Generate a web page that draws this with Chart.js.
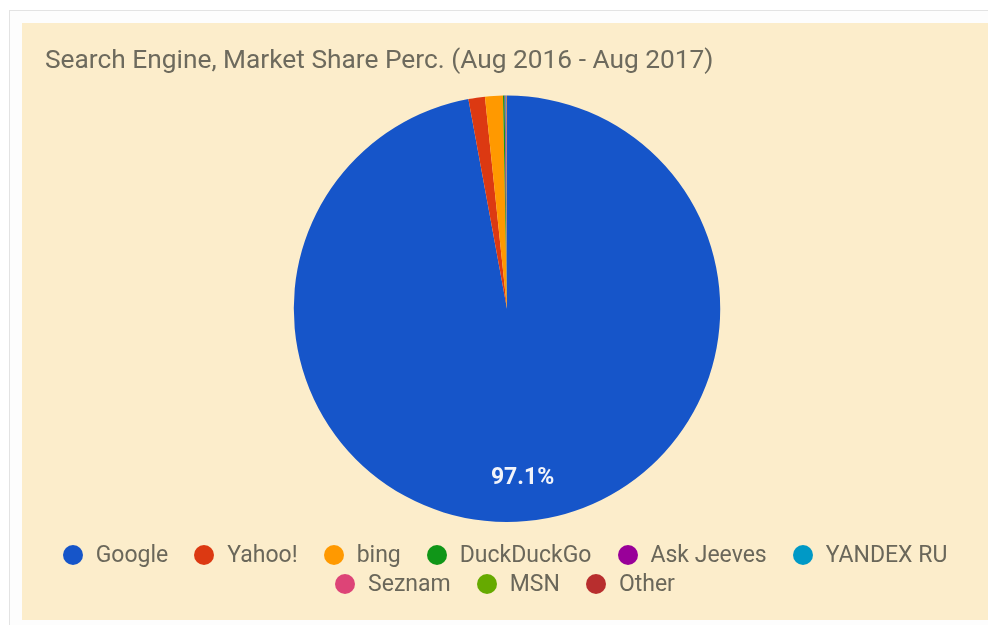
<!DOCTYPE html>
<html>
<head>
<meta charset="utf-8">
<script src="https://cdn.jsdelivr.net/npm/chart.js@4"></script>
<style>
  html, body { margin: 0; padding: 0; background: #fff; width: 988px; height: 625px; overflow: hidden; }
  #frame { position: absolute; left: 9px; top: 10px; right: 0; bottom: 0;
           border-left: 1px solid #e3e3e3; border-top: 1px solid #e3e3e3; background: #fdfdfd; }
  #panel { position: absolute; left: 22px; top: 23px; width: 966px; height: 597px; background: #fcedcb; }
  #wrap { position: absolute; left: 0; top: 0; width: 966px; height: 597px; }
  #legend { position: absolute; left: 20px; right: 20px; top: 517px;
            display: flex; flex-wrap: wrap; justify-content: center; column-gap: 26px;
            font-family: Roboto, sans-serif; font-size: 23px; line-height: 29px; color: #6a675a; }
  #legend .item { display: flex; align-items: center; white-space: nowrap; }
  #legend .dot { width: 20px; height: 20px; border-radius: 50%; margin-right: 13px; }
</style>
</head>
<body>
<div id="frame"></div>
<div id="panel">
  <div id="wrap"><canvas id="chart"></canvas></div>
  <div id="legend"></div>
</div>
<script>
// Dữ liệu: thị phần công cụ tìm kiếm (%)
const engines = ['Google', 'Yahoo!', 'bing', 'DuckDuckGo', 'Ask Jeeves', 'YANDEX RU', 'Seznam', 'MSN', 'Other'];
const shares = [97.1, 1.25, 1.35, 0.12, 0.06, 0.05, 0.03, 0.02, 0.02];
const colors = ['#1655c9', '#dc3912', '#ff9900', '#109618', '#990099', '#0099c6', '#dd4477', '#66aa00', '#b82e2e'];

// Chú thích dạng HTML
const legend = document.getElementById('legend');
engines.forEach((name, i) => {
    const item = document.createElement('div');
    item.className = 'item';
    const dot = document.createElement('span');
    dot.className = 'dot';
    dot.style.background = colors[i];
    item.appendChild(dot);
    item.appendChild(document.createTextNode(name));
    legend.appendChild(item);
});

// Ghi phần trăm lên lát lớn
const sliceLabels = {
    id: 'sliceLabels',
    afterDatasetsDraw(chart) {
        const ctx = chart.ctx;
        const data = chart.data.datasets[0].data;
        const total = data.reduce((a, b) => a + b, 0);
        chart.getDatasetMeta(0).data.forEach((arc, i) => {
            const pct = data[i] / total * 100;
            if (pct < 5) return;
            const p = arc.getProps(['x', 'y', 'startAngle', 'endAngle', 'outerRadius'], true);
            const mid = (p.startAngle + p.endAngle) / 2;
            const r = p.outerRadius * 0.8;
            ctx.save();
            ctx.fillStyle = '#f2f4fa';
            ctx.font = 'bold 23px Roboto';
            ctx.textAlign = 'center';
            ctx.textBaseline = 'middle';
            ctx.fillText(pct.toFixed(1) + '%', p.x + Math.cos(mid) * r, p.y + Math.sin(mid) * r);
            ctx.restore();
        });
    }
};

const ctx = document.getElementById('chart').getContext('2d');
const shareChart = new Chart(ctx, {
    type: 'pie',
    data: {
        labels: engines,
        datasets: [{
            data: shares,
            backgroundColor: colors,
            borderWidth: 0,
            hoverOffset: 0
        }]
    },
    options: {
        responsive: true,
        maintainAspectRatio: false,
        animation: false,
        layout: { padding: { left: 23, right: 19, top: 0, bottom: 98 } },
        plugins: {
            legend: { display: false },
            tooltip: { enabled: false },
            title: {
                display: true,
                text: 'Search Engine, Market Share Perc. (Aug 2016 - Aug 2017)',
                align: 'start',
                color: '#6d6a5d',
                font: { family: 'Roboto', size: 26.3, weight: 'normal' },
                padding: { top: 23, bottom: 18 }
            }
        }
    },
    plugins: [sliceLabels]
});
</script>
</body>
</html>
